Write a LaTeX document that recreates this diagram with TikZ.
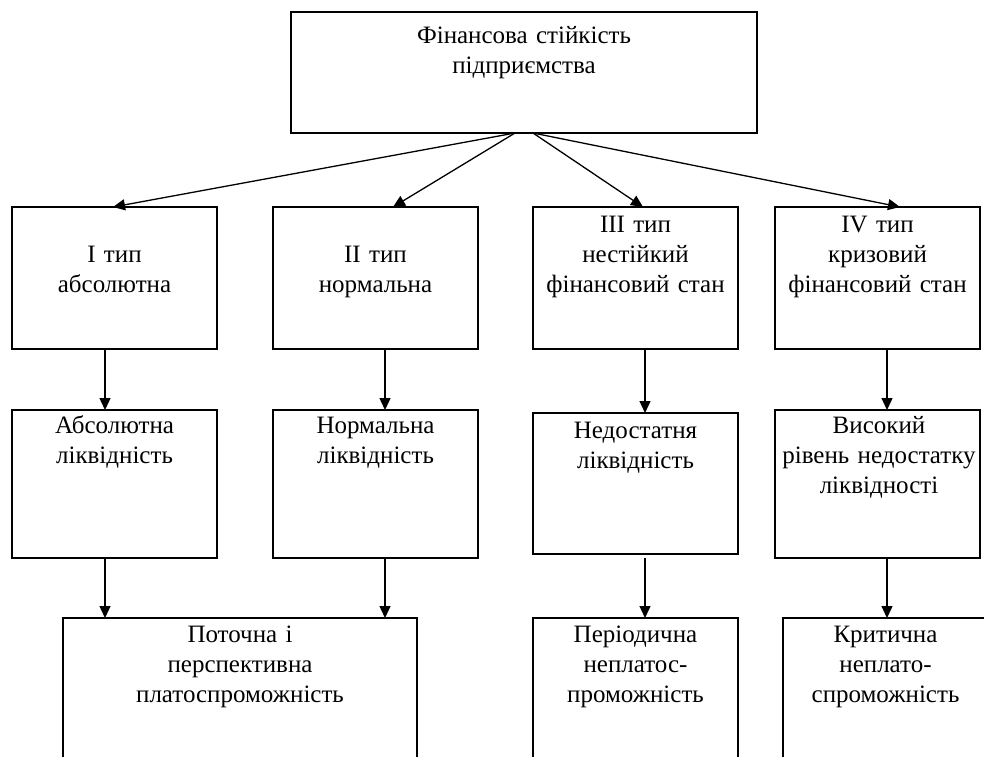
\documentclass[tikz,border=0pt]{standalone}
\usepackage{fontspec}
\setmainfont{Liberation Serif}
\usetikzlibrary{arrows.meta}
\tikzset{
  box/.style={draw=black, line width=1.3pt, inner sep=0pt, outer sep=0pt, anchor=north west, fill=none},
  txt/.style={inner sep=0pt, outer sep=0pt, anchor=base, text width=260pt, align=center, font=\fontsize{25}{30}\selectfont},
  arr/.style={line width=1.3pt, -{Triangle[length=12pt,width=11pt]}},
  ln/.style={line width=1.3pt}
}
\begin{document}
\begin{tikzpicture}[x=1pt,y=-1pt]
\useasboundingbox (0,0) rectangle (984,756);
\clip (0,0) rectangle (984,756);
% boxes
\node[box, minimum width=466, minimum height=121] (top) at (291,12) {};
\node[box, minimum width=205, minimum height=142] (ra) at (12,207) {};
\node[box, minimum width=205, minimum height=142] (rb) at (273,207) {};
\node[box, minimum width=205, minimum height=142] (rc) at (533,207) {};
\node[box, minimum width=205, minimum height=142] (rd) at (775,207) {};
\node[box, minimum width=205, minimum height=148] (la) at (12,410) {};
\node[box, minimum width=205, minimum height=148] (lb) at (273,410) {};
\node[box, minimum width=205, minimum height=141] (lc) at (533,413) {};
\node[box, minimum width=205, minimum height=148] (ld) at (775,410) {};
\node[box, minimum width=354, minimum height=200] (pa) at (63,618) {};
\node[box, minimum width=205, minimum height=200] (pb) at (533,618) {};
\node[box, minimum width=205, minimum height=200] (pc) at (783,618) {};
% texts
\node[txt] (ttop) at (524,43) {Фінансова стійкість\\підприємства};
\node[txt] (tra) at (114.5,262) {I тип\\абсолютна};
\node[txt] (trb) at (375.5,262) {II тип\\нормальна};
\node[txt] (trc) at (635.5,232) {III тип\\нестійкий\\фінансовий стан};
\node[txt] (trd) at (877.5,232) {IV тип\\кризовий\\фінансовий стан};
\node[txt] (tla) at (114.5,433) {Абсолютна\\ліквідність};
\node[txt] (tlb) at (375.5,433) {Нормальна\\ліквідність};
\node[txt] (tlc) at (635.5,438) {Недостатня\\ліквідність};
\node[txt] (tld) at (879,433) {Високий\\рівень недостатку\\ліквідності};
\node[txt] (tpa) at (240,642) {Поточна і\\перспективна\\платоспроможність};
\node[txt] (tpb) at (635.5,642) {Періодична\\неплатос-\\проможність};
\node[txt] (tpc) at (885.5,642) {Критична\\неплато-\\спроможність};
% connectors from top
\draw[arr] ([xshift=-9pt]top.south) -- ([xshift=-1.5pt]ra.north);
\draw[arr] ([xshift=-9pt]top.south) -- ([xshift=17.5pt]rb.north);
\draw[arr] ([xshift=9pt]top.south) -- ([xshift=7.5pt]rc.north);
\draw[arr] ([xshift=9pt]top.south) -- ([xshift=22.5pt]rd.north);
% row1 -> row2
\draw[arr] ([xshift=-9.5pt]ra.south) -- ([xshift=-9.5pt]la.north);
\draw[arr] ([xshift=9.5pt]rb.south) -- ([xshift=9.5pt]lb.north);
\draw[arr] ([xshift=9.5pt]rc.south) -- ([xshift=9.5pt]lc.north);
\draw[arr] ([xshift=9.5pt]rd.south) -- ([xshift=9.5pt]ld.north);
% row2 -> row3
\draw[arr] ([xshift=-9.5pt]la.south) -- ([xshift=-9.5pt]la.south |- pa.north);
\draw[arr] ([xshift=9.5pt]lb.south) -- ([xshift=9.5pt]lb.south |- pa.north);
\draw[arr] ([xshift=9.5pt,yshift=-4pt]lc.south) -- ([xshift=9.5pt]pb.north);
\draw[arr] ([xshift=9.5pt]ld.south) -- ([xshift=9.5pt]ld.south |- pc.north);
\end{tikzpicture}
\end{document}
